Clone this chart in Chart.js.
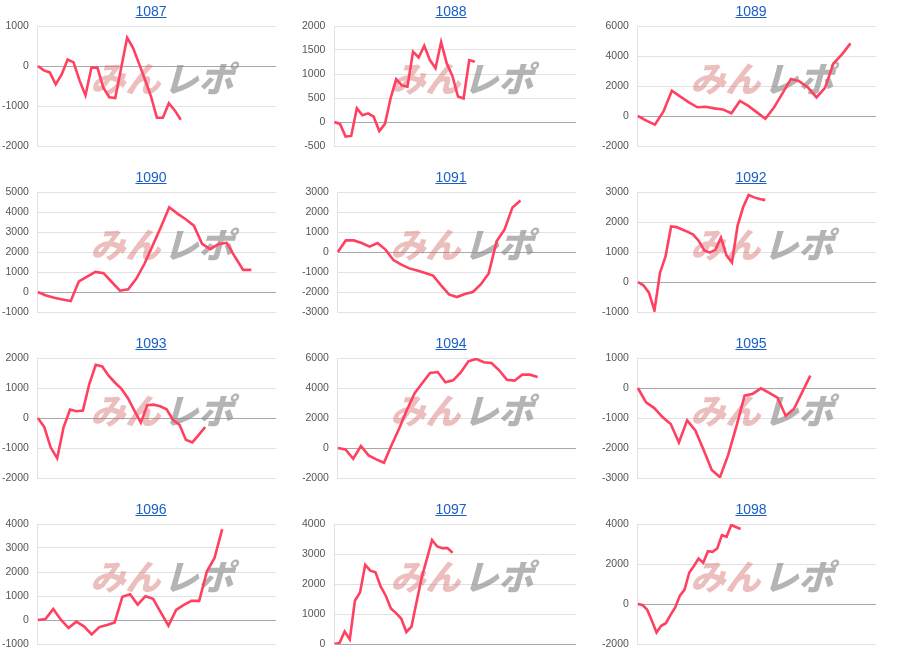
<!DOCTYPE html>
<html>
<head>
<meta charset="utf-8">
<script src="https://cdn.jsdelivr.net/npm/chart.js@4.4.1/dist/chart.umd.min.js"></script>
<style>
  html, body { margin: 0; padding: 0; background: #fff; }
  #grid { display: grid; grid-template-columns: 300px 300px 300px; grid-auto-rows: 166px; width: 900px; }
  .cell { position: relative; width: 300px; height: 166px; }
  .cell canvas { position: absolute; left: 0; top: 0; }
  .cell a { position: absolute; top: 3px; left: 0; width: 302px; text-align: center;
            font: 14px "Liberation Sans", Arial, sans-serif; line-height: 16px;
            color: #1a5fc8; text-decoration: underline; z-index: 2; }
</style>
</head>
<body>
<div id="grid"></div>
<script>
// ---- data ----
const titles = ['1087','1088','1089','1090','1091','1092','1093','1094','1095','1096','1097','1098'];

const s1087 = [0,-110,-160,-460,-210,160,90,-360,-735,-40,-40,-545,-780,-800,-45,710,450,60,-340,-760,-1295,-1295,-930,-1110,-1345];
const s1088 = [0,-40,-305,-290,285,140,180,110,-190,-40,490,895,765,735,1465,1345,1590,1290,1120,1665,1220,960,530,490,1290,1255];
const s1089 = [0,-310,-580,290,1690,1290,910,580,620,510,440,180,1000,670,240,-180,560,1510,2470,2310,1910,1240,1870,3510,4110,4840];
const s1090 = [0,-170,-285,-370,-450,535,770,1005,940,500,65,135,670,1425,2345,3265,4240,3920,3635,3315,2410,2145,2395,2460,1760,1105,1105];
const s1091 = [0,580,580,450,270,450,120,-400,-630,-820,-930,-1050,-1180,-1670,-2120,-2250,-2100,-2000,-1620,-1070,530,1130,2230,2580];
const s1092 = [0,-110,-355,-950,310,850,1850,1830,1750,1670,1580,1370,1050,980,1070,1480,890,650,1870,2490,2900,2820,2765,2730];
const s1093 = [0,-300,-985,-1340,-310,280,225,245,1140,1775,1720,1410,1175,970,660,245,-155,425,445,390,290,-65,-225,-725,-815,-560,-300];
const s1094 = [0,-90,-715,135,-490,-760,-980,200,1320,2545,3660,4330,5000,5065,4375,4510,5045,5780,5940,5715,5670,5180,4555,4490,4890,4890,4730];
const s1095 = [0,-480,-670,-970,-1200,-1815,-1080,-1415,-2060,-2730,-2975,-2230,-1280,-255,-190,-10,-165,-325,-925,-700,-145,410];
const s1096 = [0,40,460,15,-335,-70,-265,-600,-295,-210,-100,965,1075,640,990,880,320,-235,420,630,795,795,2025,2585,3785];
const s1097 = [0,35,415,155,1440,1720,2640,2445,2390,1920,1610,1185,1030,850,400,580,1410,2225,2840,3465,3250,3195,3195,3040];
const s1098 = [0,-50,-285,-840,-1430,-1090,-960,-540,-170,420,720,1565,1900,2270,2065,2640,2605,2775,3445,3360,3950,3850,3750];

const seriesList = [s1087,s1088,s1089,s1090,s1091,s1092,s1093,s1094,s1095,s1096,s1097,s1098];

// number of x categories on each chart's axis
const categoryCounts = [41,44,29,30,31,44,38,32,30,32,48,52];

// y-axis tick ranges
const yMins  = [-2000,-500,-2000,-1000,-3000,-1000,-2000,-2000,-3000,-1000,0,-2000];
const yMaxs  = [1000,2000,6000,5000,3000,3000,2000,6000,1000,4000,4000,4000];
const ySteps = [1000,500,2000,1000,1000,1000,1000,2000,1000,1000,1000,2000];

const watermarkPink = 'みん';
const watermarkGray = 'レポ';

// ---- drawing ----
const watermarkPlugin = {
  id: 'watermark',
  beforeDatasetsDraw(chart) {
    const ctx = chart.ctx;
    ctx.save();
    ctx.translate(165, 79);
    ctx.transform(1, 0, -0.28, 1, 0, 0);
    ctx.font = '900 35px "Noto Sans CJK JP", sans-serif';
    ctx.textBaseline = 'middle';
    ctx.textAlign = 'right';
    ctx.fillStyle = 'rgba(214,110,110,0.45)';
    ctx.fillText(watermarkPink, -1, 0);
    ctx.textAlign = 'left';
    ctx.fillStyle = 'rgba(140,140,140,0.65)';
    ctx.fillText(watermarkGray, 2, 0);
    ctx.restore();
  }
};

const grid = document.getElementById('grid');
titles.forEach((t, i) => {
  const cell = document.createElement('div');
  cell.className = 'cell';
  const a = document.createElement('a');
  a.href = '#';
  a.textContent = t;
  const cv = document.createElement('canvas');
  cv.width = 300; cv.height = 166;
  cv.style.width = '300px'; cv.style.height = '166px';
  cell.appendChild(cv);
  cell.appendChild(a);
  grid.appendChild(cell);

  const labels = Array.from({length: categoryCounts[i]}, (_, k) => String(k));
  new Chart(cv, {
    type: 'line',
    data: {
      labels,
      datasets: [{
        data: seriesList[i],
        borderColor: 'rgb(255,64,96)',
        borderWidth: 2.6,
        pointRadius: 0,
        tension: 0,
        fill: false
      }]
    },
    options: {
      responsive: false,
      animation: false,
      layout: { autoPadding: false, padding: { top: 26, bottom: 20, left: -7, right: 24 } },
      plugins: { legend: { display: false }, tooltip: { enabled: false } },
      scales: {
        x: { display: false },
        y: {
          min: yMins[i], max: yMaxs[i],
          ticks: {
            stepSize: ySteps[i],
            padding: 9,
            color: '#555',
            font: { family: '"Liberation Sans", Arial, sans-serif', size: 10.5 },
            callback: (v) => String(v)
          },
          grid: {
            drawTicks: false,
            color: (c) => (c.tick && c.tick.value === 0) ? '#a8a8a8' : '#e2e2e2',
            lineWidth: 1
          },
          border: { color: '#e2e2e2' }
        }
      }
    },
    plugins: [watermarkPlugin]
  });
});
</script>
</body>
</html>
